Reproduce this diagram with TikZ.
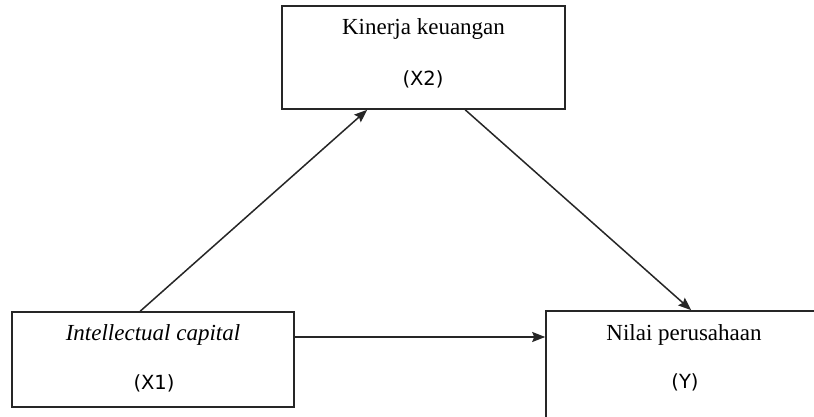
\documentclass[tikz,border=0pt]{standalone}
\usepackage{fontspec}
\setmainfont{Liberation Serif}
\newfontfamily\sansf{DejaVu Sans}
\usetikzlibrary{arrows.meta}
\begin{document}
\begin{tikzpicture}[x=1pt,y=1pt,
  box/.style={draw=black!85, line width=1.6pt, rectangle, inner sep=0pt, fill=white},
  lbl/.style={inner sep=0pt, anchor=base, font=\fontsize{23}{27}\selectfont},
  var/.style={inner sep=0pt, anchor=center, font=\sansf\fontsize{19.5}{23}\selectfont},
  arr/.style={draw=black!85, line width=1.5pt, -{Stealth[length=13pt,width=10pt,inset=2pt]}}]
\clip (0,0) rectangle (814,416);
\fill[white] (0,0) rectangle (814,416);
% boxes
\node[box, minimum width=283pt, minimum height=103pt] (x2) at (423.5,358.5) {};
\node[box, minimum width=282pt, minimum height=95pt] (x1) at (153,56.5) {};
\node[box, minimum width=276pt, minimum height=109pt] (y) at (684,50.5) {};
% texts
\node[lbl] (t2) at (423.5,381) {Kinerja keuangan};
\node[var] (v2) at (423,337) {(X2)};
\node[lbl] (t1) at (153,76) {\itshape Intellectual capital};
\node[var] (v1) at (154,33) {(X1)};
\node[lbl] (ty) at (684,76) {Nilai perusahaan};
\node[var] (vy) at (685,34) {(Y)};
% connectors
\draw[arr] ([xshift=129pt]x1.north west) -- ([xshift=86pt]x2.south west);
\draw[arr] ([xshift=184pt]x2.south west) -- ([xshift=146pt]y.north west);
\coordinate (h) at ([yshift=22.5pt]x1.east);
\draw[arr] (h) -- (h -| y.west);
\end{tikzpicture}
\end{document}
